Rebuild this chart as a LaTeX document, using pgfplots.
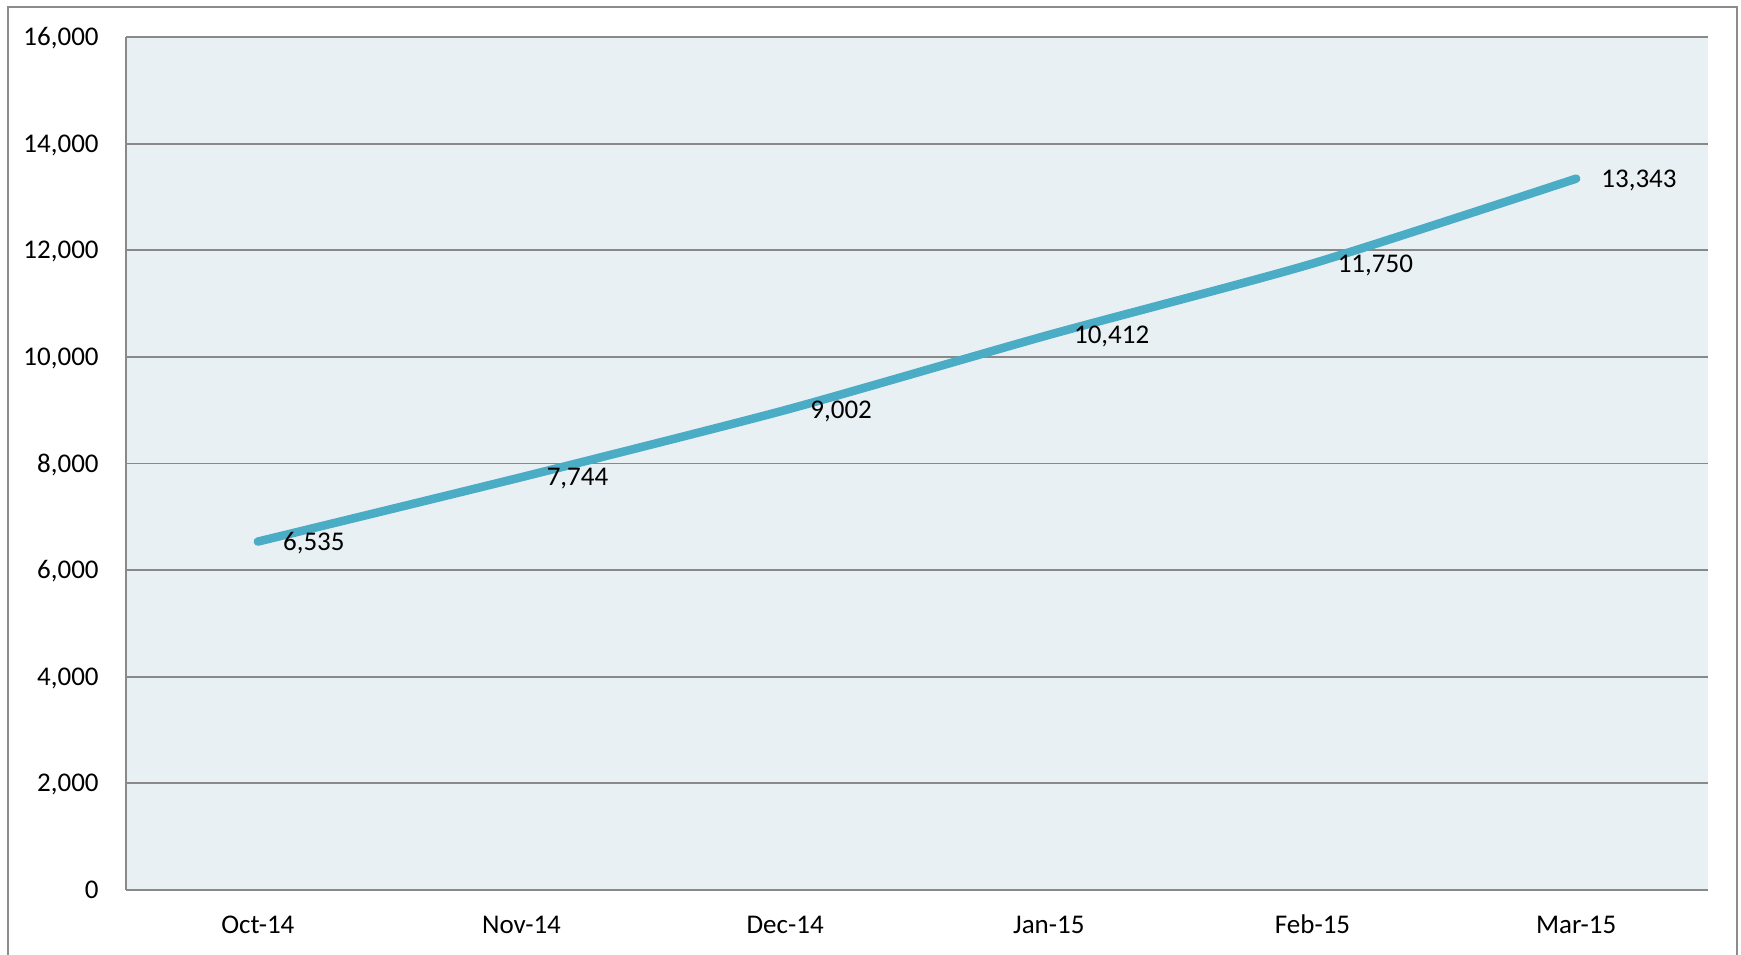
\documentclass[border=0pt]{standalone}
\usepackage{pgfplots}
\pgfplotsset{compat=1.18}
\usepackage{fontspec}
\setmainfont{Carlito}
\definecolor{linec}{HTML}{4BACC6}
\definecolor{bgc}{HTML}{E9F0F3}
\definecolor{gridc}{HTML}{898989}
\definecolor{borderc}{HTML}{8C8C8C}
\begin{document}
\begin{tikzpicture}
\begin{axis}[
  at={(63pt,32pt)}, anchor=south west,
  scale only axis,
  width=791pt, height=426.5pt,
  xmin=-0.5, xmax=5.5,
  ymin=0, ymax=16000,
  xtick={0,1,2,3,4,5},
  xticklabels={Oct-14,Nov-14,Dec-14,Jan-15,Feb-15,Mar-15},
  ytick={0,2000,4000,6000,8000,10000,12000,14000,16000},
  scaled y ticks=false,
  /pgf/number format/assume math mode=true,
  yticklabel={\pgfmathprintnumber[fixed,1000 sep={,}]{\tick}},
  major tick length=0pt,
  axis x line*=bottom,
  axis y line*=left,
  axis line style={gridc, line width=1pt, -},
  ymajorgrids,
  grid style={gridc, line width=0.9pt},
  axis background/.style={fill=bgc},
  tick label style={font=\fontsize{13.5}{16}\selectfont, text=black, inner sep=0pt},
  xticklabel style={anchor=base, yshift=-21.5pt},
  yticklabel style={anchor=base east, xshift=-13.5pt, yshift=-4.3pt},
  clip=false,
]
\addplot[linec, line width=4.25pt, line cap=round, smooth, tension=0.4,
  nodes near coords={\pgfmathprintnumber[fixed,1000 sep={,},assume math mode=true]{\pgfplotspointmeta}},
  point meta=explicit,
  every node near coord/.style={anchor=base west, xshift=10.5pt, yshift=-4.3pt, inner sep=0pt, text=black, font=\fontsize{13.5}{16}\selectfont}]
  coordinates {
  (0,6535) [6535]
  (1,7744) [7744]
  (2,9002) [9002]
  (3,10412) [10412]
  (4,11750) [11750]
  (5,13343) [13343]
};
\end{axis}
\draw[borderc, line width=1pt] (4pt,-10pt) -- (4pt,473.5pt) -- (868.5pt,473.5pt) -- (868.5pt,-10pt);
\pgfresetboundingbox
\useasboundingbox (0,0) rectangle (870.5pt,477pt);
\end{tikzpicture}
\end{document}
